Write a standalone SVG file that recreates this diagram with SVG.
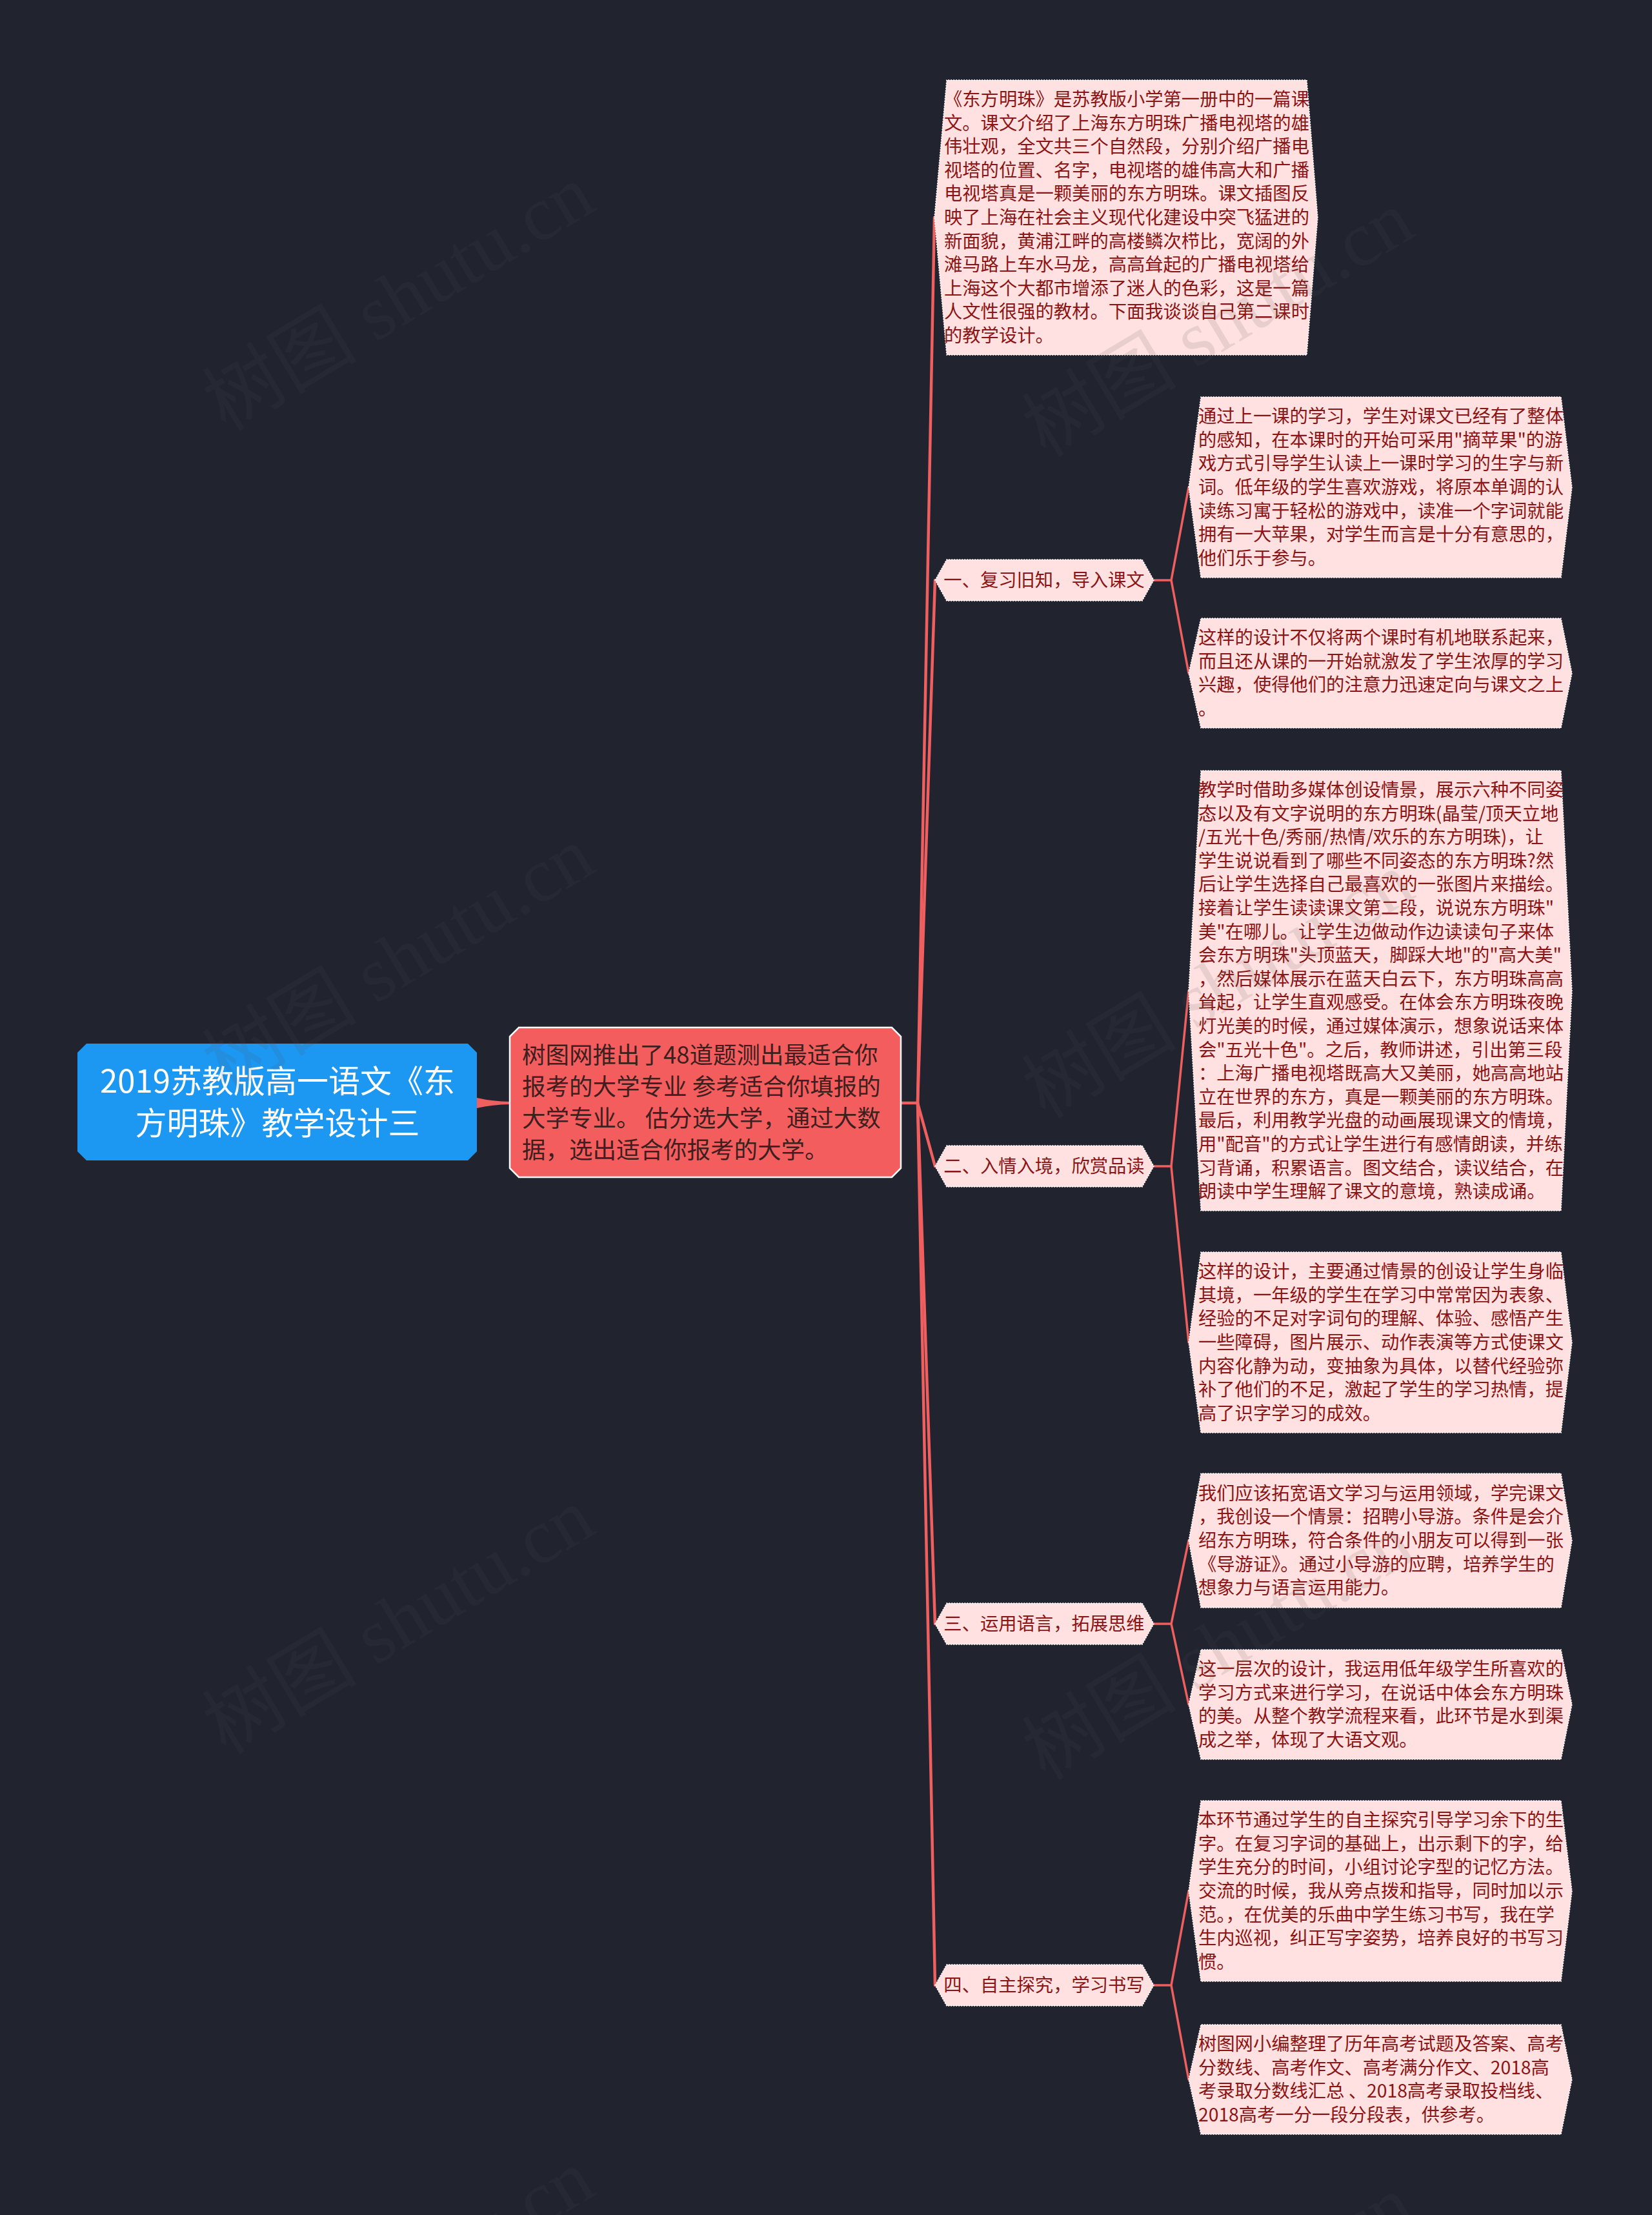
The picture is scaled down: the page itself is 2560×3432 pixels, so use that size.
<svg xmlns="http://www.w3.org/2000/svg" width="2560" height="3432" viewBox="0 0 2560 3432">
<style>
.bg{fill:#21242f}
.conn{fill:none;stroke:#ef5f5f;stroke-linecap:round;stroke-linejoin:round}
.c2{stroke-width:4.5}
.c3{stroke-width:3.5}
.box{fill:#ffe1e1;stroke:#ffffff;stroke-width:1.5;stroke-dasharray:2 2}
.tx{font-family:"Noto Sans CJK SC","Noto Sans",sans-serif;font-size:28.3px;fill:#8c1414}
.lab{font-family:"Noto Sans CJK SC","Noto Sans",sans-serif;font-size:28.3px;fill:#8c1414;text-anchor:middle}
.redbox{fill:#f45d5d;stroke:#ffffff;stroke-width:2.5}
.redtx{font-family:"Noto Sans CJK SC","Noto Sans",sans-serif;font-size:36.5px;fill:#3d1f1f}
.rootbox{fill:#1c97f2}
.roottx{font-family:"Noto Sans CJK SC","Noto Sans",sans-serif;font-size:49px;fill:#ffffff;text-anchor:middle}
.wm{font-family:"Liberation Serif","Noto Sans CJK SC",serif;font-size:120px;fill:#505050;opacity:0.12}
</style>
<rect class="bg" x="0" y="0" width="2560" height="3432"/>

<g id="connectors">
  <path d="M739,1701 Q765,1707 792,1707 L792,1711 Q765,1711 739,1717 Z" fill="#ef5f5f"/>
  <path class="conn c2" d="M1396,1709 L1422,1709"/>
  <path class="conn c2" d="M1422,1709 L1448,337"/>
  <path class="conn c2" d="M1422,1709 L1449,899"/>
  <path class="conn c2" d="M1422,1709 L1449,1807"/>
  <path class="conn c2" d="M1422,1709 L1449,2516"/>
  <path class="conn c2" d="M1422,1709 L1449,3076"/>
  <path class="conn c3" d="M1788,899 L1815,899 L1842,755"/>
  <path class="conn c3" d="M1815,899 L1842,1043"/>
  <path class="conn c3" d="M1788,1807 L1815,1807 L1842,1535"/>
  <path class="conn c3" d="M1815,1807 L1842,2080"/>
  <path class="conn c3" d="M1788,2516 L1815,2516 L1842,2387"/>
  <path class="conn c3" d="M1815,2516 L1842,2641"/>
  <path class="conn c3" d="M1788,3076 L1815,3076 L1842,2930"/>
  <path class="conn c3" d="M1815,3076 L1842,3222"/>
</g>

<g id="root">
  <polygon class="rootbox" points="134,1617 725,1617 739,1631 739,1784 725,1798 134,1798 120,1784 120,1631"/>
  <text class="roottx" x="430" y="1693">2019苏教版高一语文《东</text>
  <text class="roottx" x="430" y="1758">方明珠》教学设计三</text>
</g>

<g id="n-intro-ad">
  <polygon class="redbox" points="804,1592 1382,1592 1396,1606 1396,1810 1382,1824 804,1824 790,1810 790,1606"/>
  <text class="redtx" x="809" y="1648">树图网推出了48道题测出最适合你</text>
  <text class="redtx" x="809" y="1697">报考的大学专业 参考适合你填报的</text>
  <text class="redtx" x="809" y="1746">大学专业。 估分选大学，通过大数</text>
  <text class="redtx" x="809" y="1795">据，选出适合你报考的大学。</text>
</g>

<g id="n-text-intro">
  <polygon class="box" points="1448,337 1467,124 2025,124 2042,337 2025,550 1467,550"/>
  <text class="tx" x="1463" y="164">
    <tspan x="1463" dy="0">《东方明珠》是苏教版小学第一册中的一篇课</tspan>
    <tspan x="1463" dy="36.6">文。课文介绍了上海东方明珠广播电视塔的雄</tspan>
    <tspan x="1463" dy="36.6">伟壮观，全文共三个自然段，分别介绍广播电</tspan>
    <tspan x="1463" dy="36.6">视塔的位置、名字，电视塔的雄伟高大和广播</tspan>
    <tspan x="1463" dy="36.6">电视塔真是一颗美丽的东方明珠。课文插图反</tspan>
    <tspan x="1463" dy="36.6">映了上海在社会主义现代化建设中突飞猛进的</tspan>
    <tspan x="1463" dy="36.6">新面貌，黄浦江畔的高楼鳞次栉比，宽阔的外</tspan>
    <tspan x="1463" dy="36.6">滩马路上车水马龙，高高耸起的广播电视塔给</tspan>
    <tspan x="1463" dy="36.6">上海这个大都市增添了迷人的色彩，这是一篇</tspan>
    <tspan x="1463" dy="36.6">人文性很强的教材。下面我谈谈自己第二课时</tspan>
    <tspan x="1463" dy="36.6">的教学设计。</tspan>
  </text>
</g>

<g id="n-label-1">
  <polygon class="box" points="1449,899 1467,867 1770,867 1788,899 1770,931 1467,931"/>
  <text class="lab" x="1618" y="909">一、复习旧知，导入课文</text>
</g>
<g id="n-label-2">
  <polygon class="box" points="1449,1807 1467,1775 1770,1775 1788,1807 1770,1839 1467,1839"/>
  <text class="lab" x="1618" y="1817">二、入情入境，欣赏品读</text>
</g>
<g id="n-label-3">
  <polygon class="box" points="1449,2516 1467,2484 1770,2484 1788,2516 1770,2548 1467,2548"/>
  <text class="lab" x="1618" y="2526">三、运用语言，拓展思维</text>
</g>
<g id="n-label-4">
  <polygon class="box" points="1449,3076 1467,3044 1770,3044 1788,3076 1770,3108 1467,3108"/>
  <text class="lab" x="1618" y="3086">四、自主探究，学习书写</text>
</g>

<g id="n-a1">
  <polygon class="box" points="1842,755 1861,615 2419,615 2436,755 2419,895 1861,895"/>
  <text class="tx" x="1857" y="655.2">
    <tspan x="1857" dy="0">通过上一课的学习，学生对课文已经有了整体</tspan>
    <tspan x="1857" dy="36.6">的感知，在本课时的开始可采用"摘苹果"的游</tspan>
    <tspan x="1857" dy="36.6">戏方式引导学生认读上一课时学习的生字与新</tspan>
    <tspan x="1857" dy="36.6">词。低年级的学生喜欢游戏，将原本单调的认</tspan>
    <tspan x="1857" dy="36.6">读练习寓于轻松的游戏中，读准一个字词就能</tspan>
    <tspan x="1857" dy="36.6">拥有一大苹果，对学生而言是十分有意思的，</tspan>
    <tspan x="1857" dy="36.6">他们乐于参与。</tspan>
  </text>
</g>

<g id="n-a2">
  <polygon class="box" points="1842,1043 1861,958 2419,958 2436,1043 2419,1128 1861,1128"/>
  <text class="tx" x="1857" y="998.1">
    <tspan x="1857" dy="0">这样的设计不仅将两个课时有机地联系起来，</tspan>
    <tspan x="1857" dy="36.6">而且还从课的一开始就激发了学生浓厚的学习</tspan>
    <tspan x="1857" dy="36.6">兴趣，使得他们的注意力迅速定向与课文之上</tspan>
    <tspan x="1857" dy="36.6">。</tspan>
  </text>
</g>

<g id="n-b1">
  <polygon class="box" points="1842,1535 1861,1194 2419,1194 2436,1535 2419,1876 1861,1876"/>
  <text class="tx" x="1857" y="1233.9">
    <tspan x="1857" dy="0">教学时借助多媒体创设情景，展示六种不同姿</tspan>
    <tspan x="1857" dy="36.6">态以及有文字说明的东方明珠(晶莹/顶天立地</tspan>
    <tspan x="1857" dy="36.6">/五光十色/秀丽/热情/欢乐的东方明珠)，让</tspan>
    <tspan x="1857" dy="36.6">学生说说看到了哪些不同姿态的东方明珠?然</tspan>
    <tspan x="1857" dy="36.6">后让学生选择自己最喜欢的一张图片来描绘。</tspan>
    <tspan x="1857" dy="36.6">接着让学生读读课文第二段，说说东方明珠"</tspan>
    <tspan x="1857" dy="36.6">美"在哪儿。让学生边做动作边读读句子来体</tspan>
    <tspan x="1857" dy="36.6">会东方明珠"头顶蓝天，脚踩大地"的"高大美"</tspan>
    <tspan x="1857" dy="36.6">，然后媒体展示在蓝天白云下，东方明珠高高</tspan>
    <tspan x="1857" dy="36.6">耸起，让学生直观感受。在体会东方明珠夜晚</tspan>
    <tspan x="1857" dy="36.6">灯光美的时候，通过媒体演示，想象说话来体</tspan>
    <tspan x="1857" dy="36.6">会"五光十色"。之后，教师讲述，引出第三段</tspan>
    <tspan x="1857" dy="36.6">：上海广播电视塔既高大又美丽，她高高地站</tspan>
    <tspan x="1857" dy="36.6">立在世界的东方，真是一颗美丽的东方明珠。</tspan>
    <tspan x="1857" dy="36.6">最后，利用教学光盘的动画展现课文的情境，</tspan>
    <tspan x="1857" dy="36.6">用"配音"的方式让学生进行有感情朗读，并练</tspan>
    <tspan x="1857" dy="36.6">习背诵，积累语言。图文结合，读议结合，在</tspan>
    <tspan x="1857" dy="36.6">朗读中学生理解了课文的意境，熟读成诵。</tspan>
  </text>
</g>

<g id="n-b2">
  <polygon class="box" points="1842,2080 1861,1940 2419,1940 2436,2080 2419,2220 1861,2220"/>
  <text class="tx" x="1857" y="1980.2">
    <tspan x="1857" dy="0">这样的设计，主要通过情景的创设让学生身临</tspan>
    <tspan x="1857" dy="36.6">其境，一年级的学生在学习中常常因为表象、</tspan>
    <tspan x="1857" dy="36.6">经验的不足对字词句的理解、体验、感悟产生</tspan>
    <tspan x="1857" dy="36.6">一些障碍，图片展示、动作表演等方式使课文</tspan>
    <tspan x="1857" dy="36.6">内容化静为动，变抽象为具体，以替代经验弥</tspan>
    <tspan x="1857" dy="36.6">补了他们的不足，激起了学生的学习热情，提</tspan>
    <tspan x="1857" dy="36.6">高了识字学习的成效。</tspan>
  </text>
</g>

<g id="n-c1">
  <polygon class="box" points="1842,2387 1861,2283 2419,2283 2436,2387 2419,2491 1861,2491"/>
  <text class="tx" x="1857" y="2323.8">
    <tspan x="1857" dy="0">我们应该拓宽语文学习与运用领域，学完课文</tspan>
    <tspan x="1857" dy="36.6">，我创设一个情景：招聘小导游。条件是会介</tspan>
    <tspan x="1857" dy="36.6">绍东方明珠，符合条件的小朋友可以得到一张</tspan>
    <tspan x="1857" dy="36.6">《导游证》。通过小导游的应聘，培养学生的</tspan>
    <tspan x="1857" dy="36.6">想象力与语言运用能力。</tspan>
  </text>
</g>

<g id="n-c2">
  <polygon class="box" points="1842,2641 1861,2556 2419,2556 2436,2641 2419,2726 1861,2726"/>
  <text class="tx" x="1857" y="2596.1">
    <tspan x="1857" dy="0">这一层次的设计，我运用低年级学生所喜欢的</tspan>
    <tspan x="1857" dy="36.6">学习方式来进行学习，在说话中体会东方明珠</tspan>
    <tspan x="1857" dy="36.6">的美。从整个教学流程来看，此环节是水到渠</tspan>
    <tspan x="1857" dy="36.6">成之举，体现了大语文观。</tspan>
  </text>
</g>

<g id="n-d1">
  <polygon class="box" points="1842,2930 1861,2790 2419,2790 2436,2930 2419,3070 1861,3070"/>
  <text class="tx" x="1857" y="2830.2">
    <tspan x="1857" dy="0">本环节通过学生的自主探究引导学习余下的生</tspan>
    <tspan x="1857" dy="36.6">字。在复习字词的基础上，出示剩下的字，给</tspan>
    <tspan x="1857" dy="36.6">学生充分的时间，小组讨论字型的记忆方法。</tspan>
    <tspan x="1857" dy="36.6">交流的时候，我从旁点拨和指导，同时加以示</tspan>
    <tspan x="1857" dy="36.6">范。，在优美的乐曲中学生练习书写，我在学</tspan>
    <tspan x="1857" dy="36.6">生内巡视，纠正写字姿势，培养良好的书写习</tspan>
    <tspan x="1857" dy="36.6">惯。</tspan>
  </text>
</g>

<g id="n-d2">
  <polygon class="box" points="1842,3222 1861,3137 2419,3137 2436,3222 2419,3307 1861,3307"/>
  <text class="tx" x="1857" y="3177.1">
    <tspan x="1857" dy="0">树图网小编整理了历年高考试题及答案、高考</tspan>
    <tspan x="1857" dy="36.6">分数线、高考作文、高考满分作文、2018高</tspan>
    <tspan x="1857" dy="36.6">考录取分数线汇总 、2018高考录取投档线、</tspan>
    <tspan x="1857" dy="36.6">2018高考一分一段分段表，供参考。</tspan>
  </text>
</g>

<g id="watermarks">
  <text class="wm" transform="translate(350,670) rotate(-31)">树图 shutu.cn</text>
  <text class="wm" transform="translate(350,1695) rotate(-31)">树图 shutu.cn</text>
  <text class="wm" transform="translate(350,2720) rotate(-31)">树图 shutu.cn</text>
  <text class="wm" transform="translate(350,3745) rotate(-31)">树图 shutu.cn</text>
  <text class="wm" transform="translate(1620,710) rotate(-31)">树图 shutu.cn</text>
  <text class="wm" transform="translate(1620,1735) rotate(-31)">树图 shutu.cn</text>
  <text class="wm" transform="translate(1620,2760) rotate(-31)">树图 shutu.cn</text>
  <text class="wm" transform="translate(1620,3785) rotate(-31)">树图 shutu.cn</text>
</g>
</svg>
